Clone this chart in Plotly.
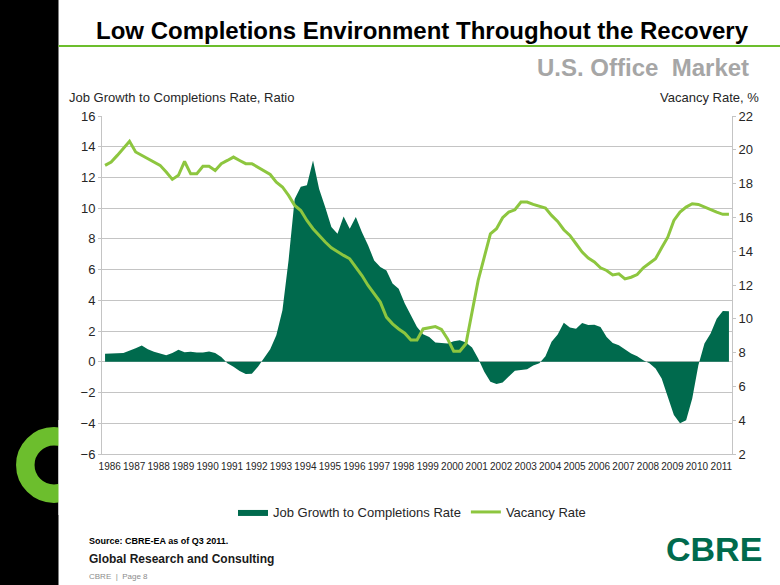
import plotly.graph_objects as go

# ---------------- data ----------------
years = list(range(1986, 2012))
quarters = [f"{y}Q{q}" for y in years for q in (1, 2, 3, 4)][:103]  # 1986Q1 .. 2011Q3
year_labels = [str(y) for y in years]

job_ratio = [
    0.52, 0.52, 0.56, 0.58, 0.71, 0.89, 1.06, 0.82, 0.65, 0.54,
    0.43, 0.58, 0.78, 0.63, 0.65, 0.60, 0.60, 0.67, 0.58, 0.32,
    -0.10, -0.32, -0.60, -0.80, -0.78, -0.32, 0.22, 0.82, 1.73, 3.35,
    6.60, 10.6, 11.4, 11.5, 13.1, 11.25, 10.06, 8.77, 8.33, 9.46,
    8.66, 9.42, 8.44, 7.58, 6.60, 6.17, 5.95, 5.09, 4.76, 3.79,
    3.03, 2.27, 1.80, 1.62, 1.26, 1.21, 1.19, 1.34, 1.40, 1.26,
    0.93, 0.22, -0.65, -1.30, -1.45, -1.34, -0.97, -0.58, -0.54, -0.48,
    -0.24, -0.10, 0.37, 1.30, 1.77, 2.55, 2.23, 2.16, 2.53, 2.40,
    2.42, 2.27, 1.62, 1.23, 1.08, 0.80, 0.54, 0.37, 0.10, -0.10,
    -0.43, -1.08, -2.27, -3.46, -4.00, -3.80, -2.38, -0.22, 1.19, 1.84,
    2.81, 3.31, 3.29,
]

vacancy = [
    19.08, 19.28, 19.67, 20.07, 20.50, 19.87, 19.67, 19.47, 19.28, 19.08,
    18.68, 18.25, 18.49, 19.31, 18.58, 18.58, 19.02, 19.02, 18.78, 19.18,
    19.37, 19.57, 19.37, 19.18, 19.18, 18.98, 18.78, 18.54, 18.09, 17.80,
    17.30, 16.71, 16.41, 15.82, 15.33, 14.93, 14.54, 14.20, 13.95, 13.75,
    13.55, 13.06, 12.56, 11.97, 11.48, 10.99, 10.10, 9.70, 9.40, 9.15,
    8.75, 8.75, 9.40, 9.48, 9.54, 9.37, 8.81, 8.08, 8.08, 8.52,
    10.30, 12.27, 13.65, 15.03, 15.33, 15.98, 16.31, 16.45, 16.91, 16.91,
    16.77, 16.67, 16.55, 16.12, 15.76, 15.27, 14.93, 14.44, 13.95, 13.59,
    13.36, 13.02, 12.86, 12.60, 12.66, 12.36, 12.46, 12.62, 13.02, 13.29,
    13.55, 14.20, 14.83, 15.82, 16.31, 16.61, 16.81, 16.77, 16.61, 16.45,
    16.31, 16.18, 16.18,
]

# quarter -> numeric year position
xq = [int(s[:4]) + (int(s[5]) - 1) * 0.25 for s in quarters]

# ---------------- styling ----------------
W, H = 780, 585
L, R, T, B = 102, 732, 116, 454
PW, PH = R - L, B - T

DARK = "#006A4D"
LIGHT = "#8DC63F"
RING = "#6CBE2D"
FONT = "Arial, 'Liberation Sans', sans-serif"
GRID = "#C4C4C4"


def px(x):
    return (x - L) / PW


def py(y):
    return (B - y) / PH


fig = go.Figure()
fig.add_trace(go.Scatter(
    x=xq, y=job_ratio, name="Job Growth to Completions Rate",
    mode="lines", line=dict(width=0, color=DARK),
    fill="tozeroy", fillcolor=DARK, yaxis="y",
))
fig.add_trace(go.Scatter(
    x=xq, y=vacancy, name="Vacancy Rate",
    mode="lines", line=dict(width=3, color=LIGHT), yaxis="y2",
))

fig.update_layout(
    width=W, height=H,
    margin=dict(l=L, r=W - R, t=T, b=H - B),
    paper_bgcolor="white", plot_bgcolor="white",
    font=dict(family=FONT, size=13, color="#262626"),
    showlegend=True,
    legend=dict(orientation="h", x=px(412), xanchor="center", y=py(512), yanchor="middle",
                font=dict(size=13, color="#262626"), bgcolor="rgba(0,0,0,0)"),
    xaxis=dict(range=[1985.875, 2011.625], tickmode="array",
               tickvals=[y + 0.19 for y in years], ticktext=year_labels,
               tickangle=0, ticklabelstandoff=3,
               tickfont=dict(size=10, color="#262626"),
               showgrid=False, zeroline=False, showline=True, linecolor=GRID, linewidth=1,
               ticks=""),
    yaxis=dict(range=[-6, 16], dtick=2, tick0=-6, showgrid=True, gridcolor=GRID, gridwidth=1,
               zeroline=False, showline=True, linecolor=GRID, linewidth=1,
               ticks="outside", ticklen=3, tickcolor=GRID,
               tickfont=dict(size=13, color="#262626")),
    yaxis2=dict(range=[2, 22], dtick=2, tick0=2, overlaying="y", side="right",
                showgrid=False, zeroline=False, showline=True, linecolor=GRID, linewidth=1,
                ticks="outside", ticklen=3, tickcolor=GRID,
                tickfont=dict(size=13, color="#262626")),
)

shapes = [
    # black band on the left
    dict(type="rect", xref="paper", yref="paper", x0=px(0), x1=px(58.5), y0=py(0), y1=py(H),
         fillcolor="black", line=dict(width=0), layer="below"),
    # green ring (clipped by white rect afterwards)
    dict(type="circle", xref="paper", yref="paper",
         x0=px(54 - 28.7), x1=px(54 + 28.7), y0=py(465 + 28.7), y1=py(465 - 28.7),
         line=dict(color=RING, width=18.5), fillcolor="rgba(0,0,0,0)", layer="below"),
    dict(type="rect", xref="paper", yref="paper", x0=px(58.5), x1=px(100), y0=py(420), y1=py(515),
         fillcolor="white", line=dict(width=0), layer="below"),
    # green rule under title
    dict(type="line", xref="paper", yref="paper", x0=px(58.5), x1=px(W), y0=py(46), y1=py(46),
         line=dict(color="#6CBE2D", width=2), layer="below"),
]
fig.update_layout(shapes=shapes)

ann = [
    dict(text="<b>Low Completions Environment Throughout the Recovery</b>", x=px(751), y=py(30),
         xanchor="right", yanchor="middle", font=dict(size=24, color="black")),
    dict(text="<b>U.S. Office\u00a0\u00a0Market</b>", x=px(751), y=py(67),
         xanchor="right", yanchor="middle", font=dict(size=24, color="#A6A6A6")),
    dict(text="Job Growth to Completions Rate, Ratio", x=px(67), y=py(97),
         xanchor="left", yanchor="middle", font=dict(size=13, color="#262626")),
    dict(text="Vacancy Rate, %", x=px(761), y=py(97),
         xanchor="right", yanchor="middle", font=dict(size=13, color="#262626")),
    dict(text="<b>Source: CBRE-EA as of Q3 2011.</b>", x=px(87), y=py(541),
         xanchor="left", yanchor="middle", font=dict(size=9, color="black")),
    dict(text="<b>Global Research and Consulting</b>", x=px(87), y=py(559),
         xanchor="left", yanchor="middle", font=dict(size=12, color="#1a1a1a")),
    dict(text="CBRE  |  Page 8", x=px(87), y=py(576),
         xanchor="left", yanchor="middle", font=dict(size=8, color="#8c8c8c")),
    dict(text="<b>CBRE</b>", x=px(764), y=py(549),
         xanchor="right", yanchor="middle", font=dict(size=34, color=DARK)),
]
for a in ann:
    a.update(xref="paper", yref="paper", showarrow=False)
fig.update_layout(annotations=ann)

fig.write_html("out.html", config={"displayModeBar": False},
               post_script="document.body.style.margin='0';document.body.style.padding='0';")
